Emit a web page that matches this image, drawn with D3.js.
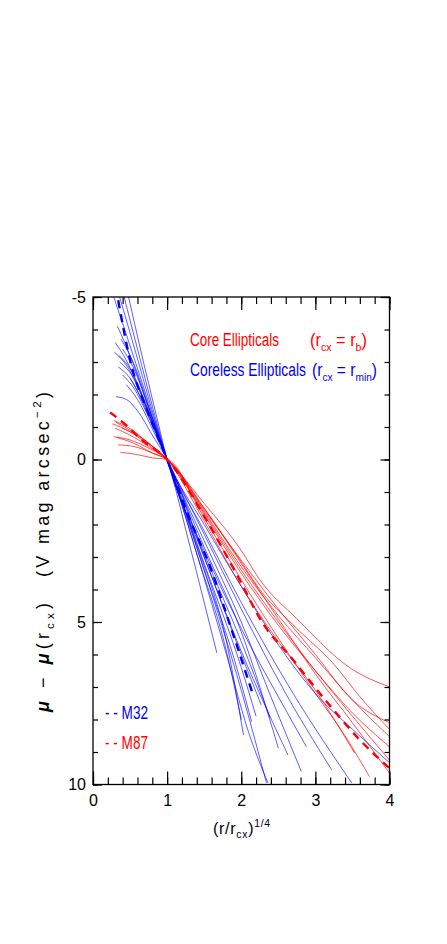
<!DOCTYPE html>
<html>
<head>
<meta charset="utf-8" />
<title>Surface brightness profiles</title>
<script src="https://d3js.org/d3.v7.min.js"></script>
<style>
  body { margin: 0; background: #fff; }
  text { font-family: "Liberation Sans", Arial, sans-serif; }
</style>
</head>
<body>
<svg id="chart" width="447" height="944"></svg>
<script>
// tick values
var xTicks = [0, 1, 2, 3, 4];
var yTicks = [-5, 0, 5, 10];

// core ellipticals, [ (r/rcx)^1/4 , mu - mu(rcx) ]
var coreCurves = [
  [[0.39,-0.97],[0.55,-0.8],[0.75,-0.5],[1,0],[1.5,1.35],[2,2.8],[2.25,3.7],[2.75,4.9],[3.46,6.4],[4,7.0]],
  [[0.26,-1.1],[0.5,-0.85],[0.75,-0.45],[1,0],[1.5,1.5],[2,3.15],[2.25,4.0],[2.75,5.2],[3.25,6.3],[3.6,7.3],[4,8.3]],
  [[0.28,-0.7],[0.5,-0.6],[0.75,-0.35],[1,0],[1.5,1.6],[2,3.3],[2.5,4.8],[3,6.1],[3.5,7.4],[4,8.53]],
  [[0.3,-0.96],[0.5,-0.75],[0.75,-0.4],[1,0],[1.5,1.7],[2,3.5],[2.5,5.1],[3,6.5],[3.5,7.8],[4,8.84]],
  [[0.37,-0.22],[0.6,-0.15],[0.8,-0.05],[1,0],[1.5,1.8],[2,3.7],[2.5,5.5],[3,7.2],[3.4,8.5],[3.73,9.76]],
  [[0.31,-1.14],[0.5,-0.9],[0.75,-0.5],[1,0],[1.5,1.9],[2,3.9],[2.5,5.6],[3,7.1],[3.53,9.04]],
  [[0.28,-1.2],[0.5,-0.95],[0.75,-0.5],[1,0],[1.5,1.65],[2,3.4],[2.5,5.0],[3,6.5],[3.5,7.9],[4,9.25]],
  [[0.32,-0.68],[0.55,-0.5],[0.8,-0.2],[1,0],[1.5,1.5],[2,3.2],[2.5,4.9],[3,6.6],[3.5,8.1],[4,9.65]],
  [[0.34,-0.45],[0.55,-0.4],[0.8,-0.2],[1,0],[1.5,1.55],[2,3.1],[2.5,4.6],[3,6.0],[3.5,7.4],[4,8.1]]
];

// coreless ellipticals
var corelessCurves = [
  [[0.28,-5.0],[0.5,-3.5],[0.75,-1.75],[1,0],[1.5,3.4],[2.0,7.1],[2.34,9.95]],
  [[0.36,-5.0],[0.55,-3.5],[0.8,-1.5],[1,0],[1.4,2.6],[1.8,5.6],[2.03,8.48]],
  [[0.42,-5.0],[0.6,-3.4],[0.8,-1.65],[1,0],[1.5,3.0],[2.0,5.9],[2.63,9.09]],
  [[0.48,-5.0],[0.65,-3.3],[0.85,-1.4],[1,0],[1.5,2.8],[2.0,5.2],[2.5,7.3],[2.88,8.84]],
  [[0.30,-3.6],[0.45,-3.05],[0.6,-2.3],[0.8,-1.15],[1,0],[1.3,2.6],[1.67,5.95]],
  [[0.29,-3.3],[0.45,-2.9],[0.65,-2.0],[0.85,-0.9],[1,0],[1.4,2.9],[1.8,5.9],[2.0,8.0]],
  [[0.34,-2.85],[0.5,-2.5],[0.7,-1.6],[0.85,-0.8],[1,0],[1.5,3.4],[1.9,6.1],[2.14,8.07]],
  [[0.31,-1.93],[0.45,-1.85],[0.6,-1.5],[0.8,-0.75],[1,0],[1.5,3.0],[2.0,6.0],[2.27,7.55]],
  [[0.35,-3.2],[0.5,-2.8],[0.7,-1.8],[0.85,-0.9],[1,0],[1.5,2.9],[2.0,5.6],[2.39,7.95]],
  [[0.4,-2.6],[0.55,-2.2],[0.75,-1.3],[1,0],[1.5,2.7],[2.0,5.3],[2.5,8.88]],
  [[0.36,-3.0],[0.55,-2.5],[0.75,-1.45],[1,0],[1.5,2.5],[2.0,5.0],[2.4,7.3],[2.81,9.6]],
  [[0.45,-2.3],[0.6,-1.85],[0.8,-0.95],[1,0],[1.5,2.3],[2.0,4.6],[2.6,7.2],[3.22,9.55]],
  [[0.4,-3.4],[0.55,-2.8],[0.75,-1.6],[1,0],[1.5,2.2],[2.0,4.4],[2.7,7.2],[3.49,9.95]],
  [[0.5,-2.5],[0.65,-1.9],[0.85,-0.85],[1,0],[1.5,2.0],[2.0,3.9],[2.5,5.7],[3.0,7.2],[3.5,8.3],[4.0,9.33]],
  [[0.33,-4.1],[0.5,-3.2],[0.75,-1.6],[1,0],[1.4,2.9],[1.8,6.0],[2.1,8.4],[2.36,9.95]],
  [[0.38,-3.7],[0.55,-2.95],[0.8,-1.3],[1,0],[1.5,3.2],[2.0,6.4],[2.2,7.9]]
];

// the two dashed reference galaxies
var m32 = [[0.34,-4.9],[0.5,-3.06],[0.75,-1.4],[1,0],[1.3,1.8],[1.58,3.3],[1.85,5.1],[2.16,7.25]];
var m87 = [[0.23,-1.45],[0.45,-1.05],[0.66,-0.6],[1,0],[1.5,1.75],[2,3.8],[2.25,4.89],[2.7,6.17],[3.17,7.5],[3.6,8.63],[4,9.5]];

var svg = d3.select("#chart");

var x = d3.scaleLinear().domain([0, 4]).range([93, 389.5]);
var y = d3.scaleLinear().domain([-5, 10]).range([297, 784.5]);

svg.append("clipPath").attr("id", "plotclip")
  .append("rect")
  .attr("x", x(0)).attr("y", y(-5))
  .attr("width", x(4) - x(0)).attr("height", y(10) - y(-5));

var line = d3.line()
  .x(function(d){ return x(d[0]); })
  .y(function(d){ return y(d[1]); })
  .curve(d3.curveMonotoneX);

var plot = svg.append("g").attr("clip-path", "url(#plotclip)");

// thin profiles
plot.selectAll(".core").data(coreCurves).enter().append("path")
  .attr("class", "core")
  .attr("d", line)
  .attr("fill", "none")
  .attr("stroke", "#ff0000")
  .attr("stroke-opacity", 0.75)
  .attr("stroke-width", 0.9);

plot.selectAll(".coreless").data(corelessCurves).enter().append("path")
  .attr("class", "coreless")
  .attr("d", line)
  .attr("fill", "none")
  .attr("stroke", "#0000ff")
  .attr("stroke-opacity", 0.7)
  .attr("stroke-width", 0.9);

// dashed M32 / M87
plot.append("path").datum(m32)
  .attr("d", line)
  .attr("fill", "none")
  .attr("stroke", "#0000ff")
  .attr("stroke-width", 2.4)
  .attr("stroke-dasharray", "8,6");

plot.append("path").datum(m87)
  .attr("d", line)
  .attr("fill", "none")
  .attr("stroke", "#ff0000")
  .attr("stroke-width", 2.4)
  .attr("stroke-dasharray", "8,6");

// axes - ticks point inward on all four sides
var xMinor = d3.range(0, 4.001, 0.2);
var yMinor = d3.range(-5, 10.001, 1);
function noLabel(){ return ""; }

function styleAxis(g) {
  g.select(".domain").remove();
  g.selectAll("line").attr("stroke", "#000").attr("stroke-width", 1.2);
  g.selectAll("text").attr("font-size", 16).attr("fill", "#000")
    .attr("font-family", "'Liberation Sans', Arial, sans-serif");
}

svg.append("g").attr("transform", "translate(0," + y(10) + ")")
  .call(d3.axisBottom(x).tickValues(xMinor).tickSize(-7).tickFormat(noLabel)).call(styleAxis);
svg.append("g").attr("transform", "translate(0," + y(10) + ")")
  .call(d3.axisBottom(x).tickValues(xTicks).tickSize(-13).tickPadding(10)
    .tickFormat(function(d){ return String(d); })).call(styleAxis);

svg.append("g").attr("transform", "translate(0," + y(-5) + ")")
  .call(d3.axisTop(x).tickValues(xMinor).tickSize(-7).tickFormat(noLabel)).call(styleAxis);
svg.append("g").attr("transform", "translate(0," + y(-5) + ")")
  .call(d3.axisTop(x).tickValues(xTicks).tickSize(-13).tickFormat(noLabel)).call(styleAxis);

svg.append("g").attr("transform", "translate(" + x(0) + ",0)")
  .call(d3.axisLeft(y).tickValues(yMinor).tickSize(-5).tickFormat(noLabel)).call(styleAxis);
svg.append("g").attr("transform", "translate(" + x(0) + ",0)")
  .call(d3.axisLeft(y).tickValues(yTicks).tickSize(-9).tickPadding(7)
    .tickFormat(function(d){ return String(d); })).call(styleAxis);

svg.append("g").attr("transform", "translate(" + x(4) + ",0)")
  .call(d3.axisRight(y).tickValues(yMinor).tickSize(-5).tickFormat(noLabel)).call(styleAxis);
svg.append("g").attr("transform", "translate(" + x(4) + ",0)")
  .call(d3.axisRight(y).tickValues(yTicks).tickSize(-9).tickFormat(noLabel)).call(styleAxis);

// frame
svg.append("rect")
  .attr("x", x(0)).attr("y", y(-5))
  .attr("width", x(4) - x(0)).attr("height", y(10) - y(-5))
  .attr("fill", "none").attr("stroke", "#000").attr("stroke-width", 1.3);

// squeeze a text horizontally so it covers the wanted width
function fit(g, px, py, width) {
  var w = g.select("text").node().getBBox().width;
  g.attr("transform", "translate(" + px + "," + py + ") scale(" + (width / w) + ",1)");
}
// or spread its letters so it covers the wanted length (keeps glyph shapes)
function spread(g, px, py, width, rot) {
  var t = g.select("text");
  var n = t.text().length;
  var w = t.node().getBBox().width;
  t.attr("letter-spacing", (width - w) / n);
  g.attr("transform", "translate(" + px + "," + py + ")" + (rot ? " rotate(" + rot + ")" : ""));
}

// rich text: parts are [text, kind] with kind "" / "sub" / "sup" / "mu"
function richText(parent, parts, size, colour) {
  var g = parent.append("g");
  var t = g.append("text").attr("x", 0).attr("y", 0).attr("font-size", size).attr("fill", colour);
  var shift = 0;
  parts.forEach(function(p) {
    var s = t.append("tspan").text(p[0]);
    var want = p[1] === "sub" ? size * 0.28 : (p[1] === "sup" ? -size * 0.45 : 0);
    if (want !== shift) { s.attr("dy", want - shift); shift = want; }
    if (p[1] === "sub" || p[1] === "sup") s.attr("font-size", size * 0.65);
    if (p[1] === "mu") s.attr("font-weight", "bold").attr("font-style", "italic");
  });
  return g;
}

// x title
spread(richText(svg, [["(r/r",""],["cx","sub"],[")",""],["1/4","sup"]], 16, "#000"), 213, 834, 58);

// y title, two pieces running upward
spread(richText(svg, [["\u03bc","mu"],[" \u2212 ",""],["\u03bc","mu"],["(r",""],["cx","sub"],[")",""]], 18, "#000"),
  49, 712, 114, -90);
spread(richText(svg, [["(V  mag  arcsec",""],["\u22122","sup"],[")",""]], 18, "#000"),
  49, 577, 195, -90);

// legend
fit(richText(svg, [["Core Ellipticals",""]], 18, "#ff0000"), 190, 346, 89);
fit(richText(svg, [["(r",""],["cx","sub"],[" = r",""],["b","sub"],[")",""]], 18, "#ff0000"), 310, 346, 57);
fit(richText(svg, [["Coreless Ellipticals",""]], 18, "#0000ff"), 190, 376, 116);
fit(richText(svg, [["(r",""],["cx","sub"],[" = r",""],["min","sub"],[")",""]], 18, "#0000ff"), 312, 376, 65);

fit(richText(svg, [["- - M32",""]], 18, "#0000ff"), 105, 719, 43);
fit(richText(svg, [["- - M87",""]], 18, "#ff0000"), 105, 749, 43);
</script>
</body>
</html>
